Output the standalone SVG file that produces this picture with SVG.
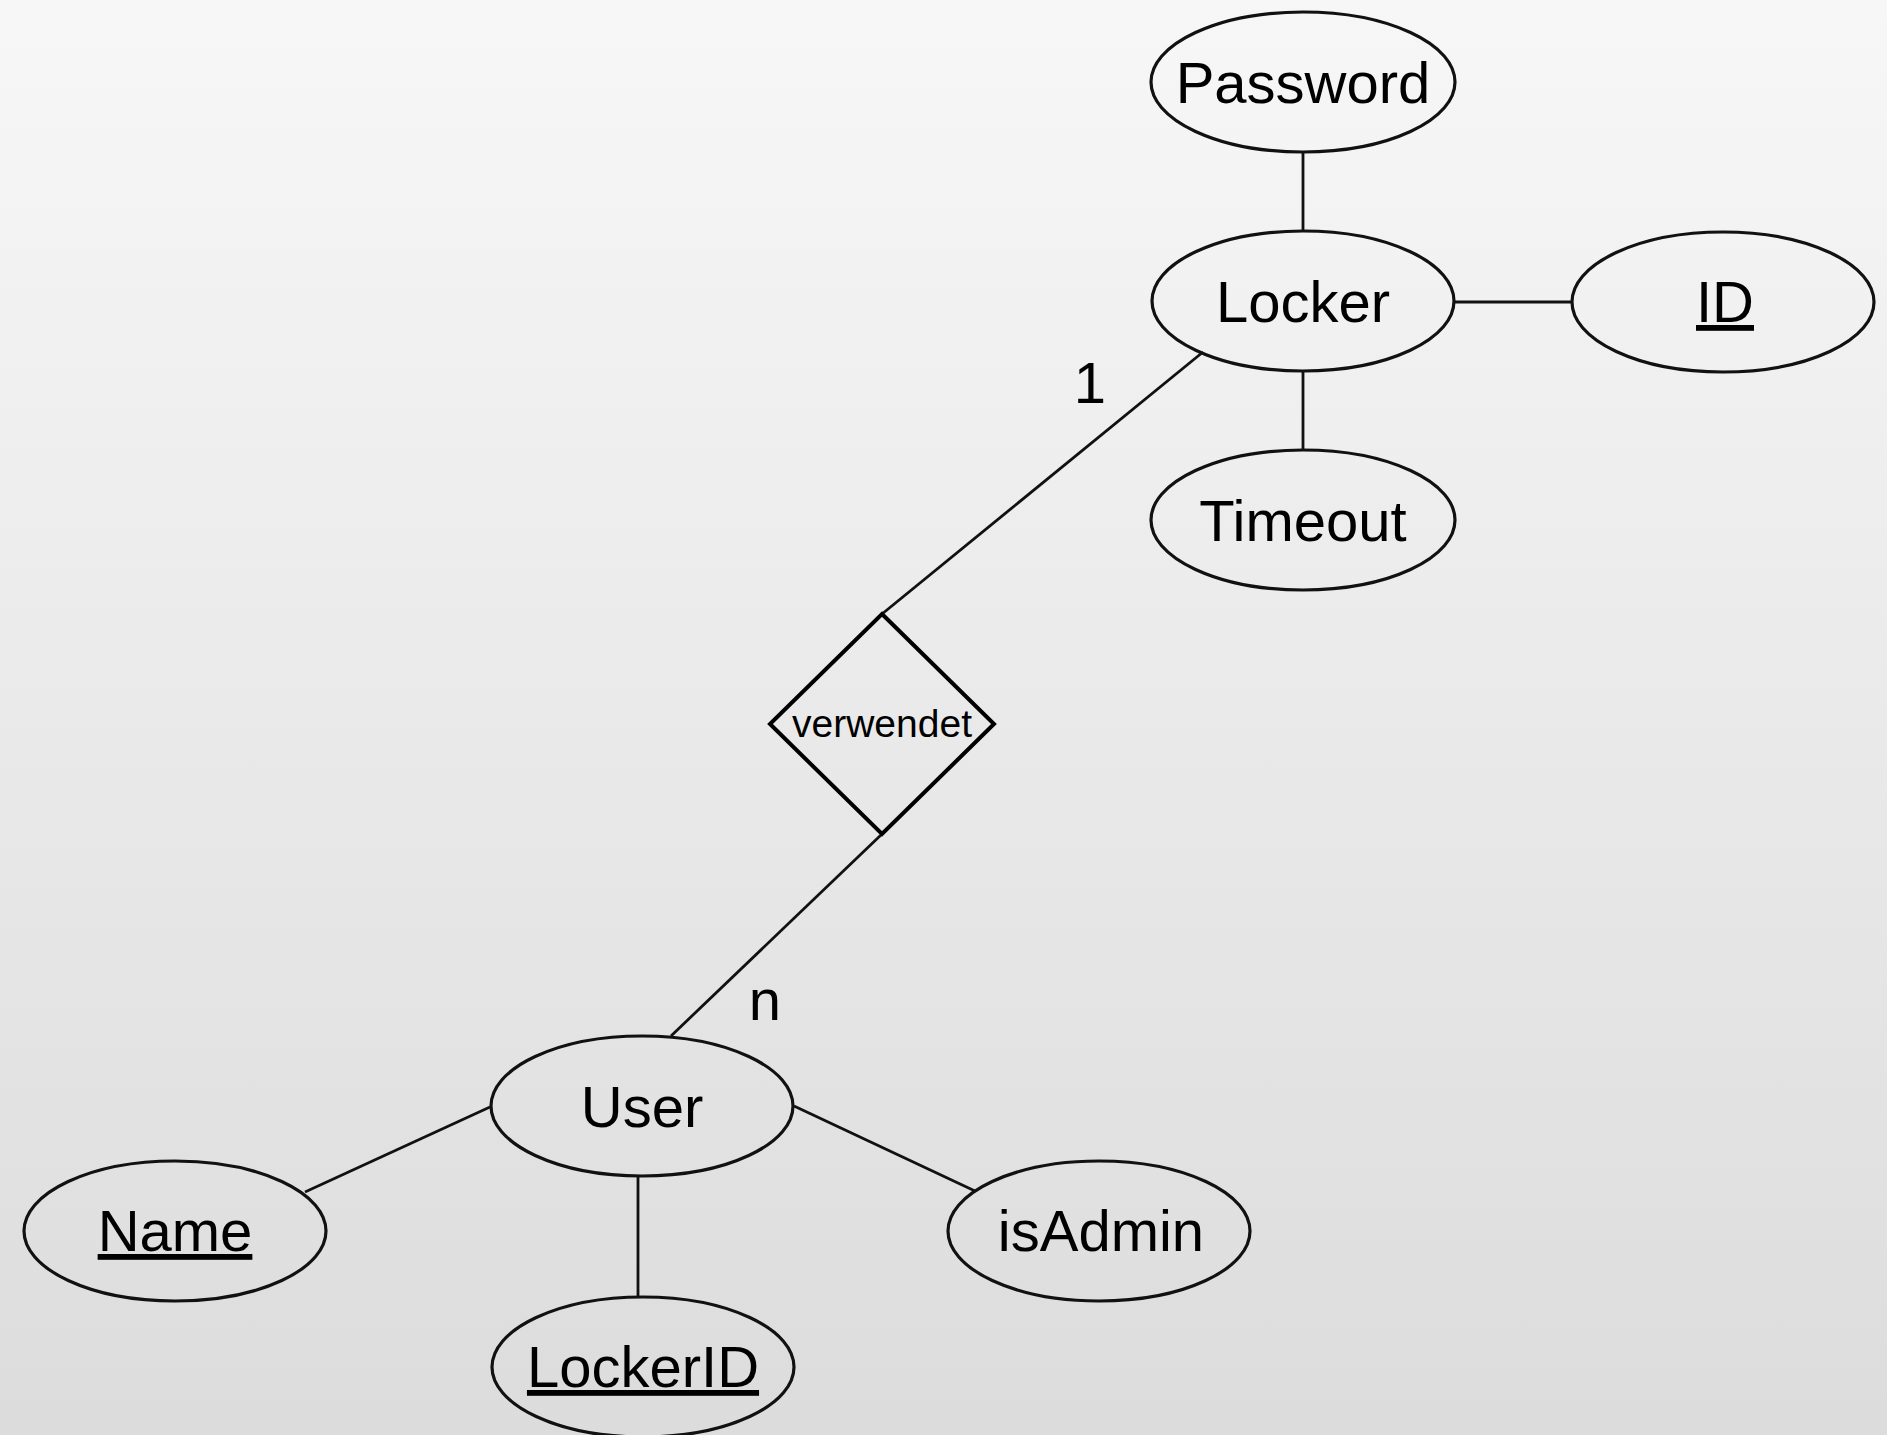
<svg xmlns="http://www.w3.org/2000/svg" width="1887" height="1435" viewBox="0 0 1887 1435">
  <defs>
    <linearGradient id="bg" x1="0" y1="0" x2="0" y2="1">
      <stop offset="0" stop-color="#f7f7f7"/>
      <stop offset="1" stop-color="#dcdcdc"/>
    </linearGradient>
    <style>
      .attr { fill: none; stroke: #111; stroke-width: 3.2; }
      .rel { fill: none; stroke: #000; stroke-width: 4; stroke-linejoin: miter; }
      .link { stroke: #111; stroke-width: 2.8; fill: none; }
      .lbl { font-family: "Liberation Sans", Arial, sans-serif; font-size: 58px; fill: #000; text-anchor: middle; }
      .key { text-decoration: underline; }
      .small { font-size: 39px; }
    </style>
  </defs>

  <rect x="0" y="0" width="1887" height="1435" fill="url(#bg)"/>

  <!-- connectors -->
  <g id="connectors">
    <line class="link" x1="1303" y1="153" x2="1303" y2="231"/>
    <line class="link" x1="1454" y1="302" x2="1572" y2="302"/>
    <line class="link" x1="1303" y1="371" x2="1303" y2="450"/>
    <line class="link" x1="1203" y1="352" x2="882" y2="614"/>
    <line class="link" x1="882" y1="834" x2="671" y2="1036"/>
    <line class="link" x1="490" y1="1107" x2="305" y2="1192"/>
    <line class="link" x1="794" y1="1106" x2="975" y2="1191"/>
    <line class="link" x1="638" y1="1176" x2="638" y2="1297"/>
    <text class="lbl" x="1090" y="403">1</text>
    <text class="lbl" x="765" y="1020">n</text>
  </g>

  <!-- Locker entity and its attributes -->
  <g id="password">
    <ellipse class="attr" cx="1303" cy="82" rx="152" ry="70"/>
    <text class="lbl" x="1303" y="103">Password</text>
  </g>
  <g id="locker">
    <ellipse class="attr" cx="1303" cy="301" rx="151" ry="70"/>
    <text class="lbl" x="1303" y="322">Locker</text>
  </g>
  <g id="id">
    <ellipse class="attr" cx="1723" cy="302" rx="151" ry="70"/>
    <text class="lbl key" x="1725" y="322">ID</text>
  </g>
  <g id="timeout">
    <ellipse class="attr" cx="1303" cy="520" rx="152" ry="70"/>
    <text class="lbl" x="1303" y="541">Timeout</text>
  </g>

  <!-- relationship -->
  <g id="verwendet">
    <polygon class="rel" points="882,614 994,724 882,834 770,724"/>
    <text class="lbl small" x="882" y="737">verwendet</text>
  </g>

  <!-- User entity and its attributes -->
  <g id="user">
    <ellipse class="attr" cx="642" cy="1106" rx="151" ry="70"/>
    <text class="lbl" x="642" y="1127">User</text>
  </g>
  <g id="name">
    <ellipse class="attr" cx="175" cy="1231" rx="151" ry="70"/>
    <text class="lbl key" x="175" y="1251">Name</text>
  </g>
  <g id="isadmin">
    <ellipse class="attr" cx="1099" cy="1231" rx="151" ry="70"/>
    <text class="lbl" x="1101" y="1251">isAdmin</text>
  </g>
  <g id="lockerid">
    <ellipse class="attr" cx="643" cy="1367" rx="151" ry="70"/>
    <text class="lbl key" x="643" y="1387">LockerID</text>
  </g>
</svg>
